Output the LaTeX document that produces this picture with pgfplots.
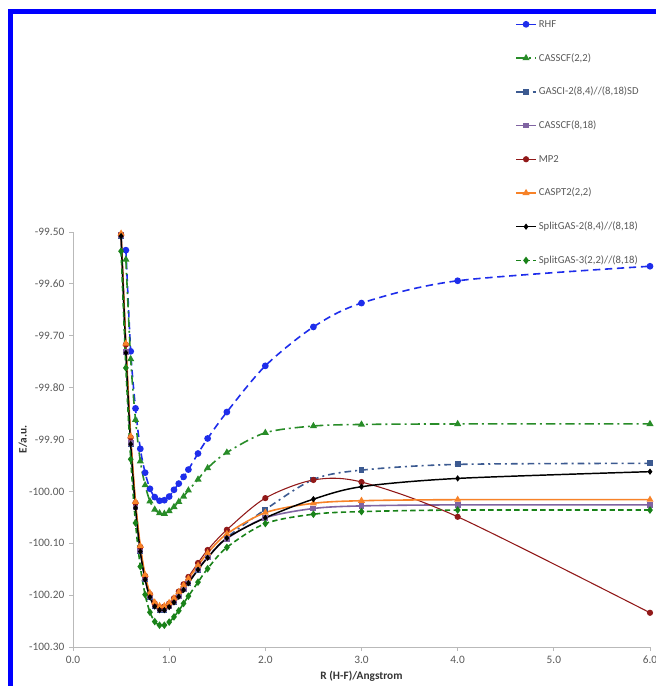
\documentclass[border=0pt]{standalone}
\usepackage{fontspec}
\setmainfont{Carlito}
\usepackage{pgfplots}
\pgfplotsset{compat=1.18}
\usepackage{pgfplotstable}

\definecolor{rhf}{RGB}{30,45,235}
\definecolor{cgreen}{RGB}{40,140,40}
\definecolor{gasci}{RGB}{60,90,145}
\definecolor{cas818}{RGB}{128,100,162}
\definecolor{mptwo}{RGB}{145,25,25}
\definecolor{pttwo}{RGB}{247,130,40}
\definecolor{sgthree}{RGB}{25,130,25}
\definecolor{txtgray}{RGB}{89,89,89}

% r (Angstrom) and energies (a.u.)
\pgfplotstableread{
r     RHF      CAS22    GASCI    CAS818   MP2      PT2      SG2      SG3
0.50  nan      nan      -99.507  -99.506  -99.505  -99.503  -99.508  -99.537
0.55  -99.535  -99.553  -99.732  -99.731  -99.717  -99.715  -99.733  -99.762
0.60  -99.730  -99.745  -99.908  -99.907  -99.896  -99.894  -99.909  -99.938
0.65  -99.840  -99.862  -100.031 -100.030 -100.022 -100.020 -100.032 -100.061
0.70  -99.918  -99.942  -100.115 -100.114 -100.107 -100.105 -100.116 -100.145
0.75  -99.964  -99.988  -100.169 -100.168 -100.163 -100.161 -100.170 -100.199
0.80  -99.995  -100.019 -100.203 -100.202 -100.198 -100.196 -100.204 -100.233
0.85  -100.011 -100.035 -100.221 -100.220 -100.216 -100.214 -100.222 -100.251
0.90  -100.018 -100.042 -100.228 -100.227 -100.223 -100.221 -100.229 -100.258
0.95  -100.017 -100.043 -100.228 -100.227 -100.222 -100.221 -100.229 -100.258
1.00  -100.010 -100.038 -100.222 -100.221 -100.216 -100.215 -100.223 -100.252
1.05  -99.997  -100.030 -100.213 -100.212 -100.206 -100.206 -100.214 -100.242
1.10  -99.985  -100.020 -100.202 -100.201 -100.193 -100.194 -100.203 -100.230
1.15  -99.972  -100.010 -100.189 -100.188 -100.179 -100.181 -100.190 -100.216
1.20  -99.958  -99.998  -100.176 -100.175 -100.165 -100.168 -100.177 -100.202
1.30  -99.927  -99.977  -100.151 -100.150 -100.138 -100.143 -100.151 -100.175
1.40  -99.898  -99.955  -100.127 -100.127 -100.113 -100.119 -100.128 -100.149
1.60  -99.847  -99.925  -100.089 -100.091 -100.074 -100.082 -100.090 -100.108
2.00  -99.758  -99.887  -100.035 -100.051 -100.013 -100.041 -100.051 -100.062
2.50  -99.683  -99.874  -99.977  -100.033 -99.978  -100.023 -100.015 -100.044
3.00  -99.637  -99.871  -99.959  -100.028 -99.982  -100.018 -99.991  -100.039
4.00  -99.594  -99.870  -99.948  -100.026 -100.049 -100.016 -99.975  -100.036
6.00  -99.566  -99.870  -99.946  -100.026 -100.234 -100.016 -99.962  -100.036
}\data

\begin{document}
\begin{tikzpicture}
\useasboundingbox (0,0) rectangle (492pt,514.5pt);
% blue frame of the screenshot
\fill[blue] (6pt,504pt) rectangle (492pt,507.5pt);
\fill[blue] (6pt,0pt) rectangle (9.75pt,507.5pt);
\begin{axis}[
    at={(54.75pt,29.25pt)}, anchor=south west,
    scale only axis, width=432.75pt, height=311.25pt,
    xmin=0, xmax=6, ymin=-100.3, ymax=-99.5,
    axis lines=left,
    axis line style={-, draw=gray!55, line width=0.7pt},
    tick style={draw=gray!55, line width=0.6pt},
    tick align=outside, major tick length=3pt,
    xtick={0,1,2,3,4,5,6},
    ytick={-100.3,-100.2,-100.1,-100,-99.9,-99.8,-99.7,-99.6,-99.5},
    scaled ticks=false,
    xticklabel style={/pgf/number format/.cd, fixed, fixed zerofill, precision=1, assume math mode=true},
    yticklabel style={/pgf/number format/.cd, fixed, fixed zerofill, precision=2, assume math mode=true},
    ticklabel style={font=\fontsize{8.5}{10}\selectfont, text=txtgray},
    xlabel={R (H-F)/Angstrom},
    ylabel={E/a.u.},
    xlabel style={at={(axis description cs:0.5,-0.07)}, anchor=center, font=\bfseries\fontsize{8.5}{10}\selectfont, text=black!80},
    ylabel style={at={(axis description cs:-0.087,0.5)}, anchor=center, font=\bfseries\fontsize{8.5}{10}\selectfont, text=black!80},
    clip=false,
    legend cell align=left,
    legend image code/.code={\draw[mark repeat=2,mark phase=2,#1] plot coordinates {(0pt,0pt) (7.5pt,0pt) (15pt,0pt)};},
    legend style={at={(axis description cs:0.766,1.518)}, anchor=north west,
        draw=none, fill=none, font=\fontsize{8}{9.6}\selectfont, text=txtgray,
        row sep=14.8pt, inner sep=0pt,
        nodes={inner sep=1.5pt, text height=6pt, text depth=1.5pt}},
    every axis plot/.append style={smooth, mark size=1.9pt, mark options={solid}},
]
\addplot[rhf, line width=1.2pt, dash pattern=on 5.5pt off 3.5pt, mark=*] table[x=r, y=RHF] {\data};
\addlegendentry{RHF}
\addplot[cgreen, line width=1.2pt, dash pattern=on 7pt off 3pt on 1.5pt off 3pt, mark=triangle*] table[x=r, y=CAS22] {\data};
\addlegendentry{CASSCF(2,2)}
\addplot[gasci, line width=1.2pt, dash pattern=on 5pt off 3pt on 1.5pt off 3pt, mark=square*, mark size=1.6pt] table[x=r, y=GASCI] {\data};
\addlegendentry{GASCI-2(8,4)//(8,18)SD}
\addplot[cas818, line width=1.2pt, mark=square*, mark size=1.6pt] table[x=r, y=CAS818] {\data};
\addlegendentry{CASSCF(8,18)}
\addplot[mptwo, line width=0.8pt, mark=*] table[x=r, y=MP2] {\data};
\addlegendentry{MP2}
\addplot[pttwo, line width=1.2pt, mark=triangle*] table[x=r, y=PT2] {\data};
\addlegendentry{CASPT2(2,2)}
\addplot[black, line width=1.1pt, mark=diamond*, mark size=1.5pt] table[x=r, y=SG2] {\data};
\addlegendentry{SplitGAS-2(8,4)//(8,18)}
\addplot[sgthree, line width=1.2pt, dash pattern=on 4pt off 2.5pt, mark=diamond*] table[x=r, y=SG3] {\data};
\addlegendentry{SplitGAS-3(2,2)//(8,18)}
\end{axis}
\end{tikzpicture}
\end{document}
